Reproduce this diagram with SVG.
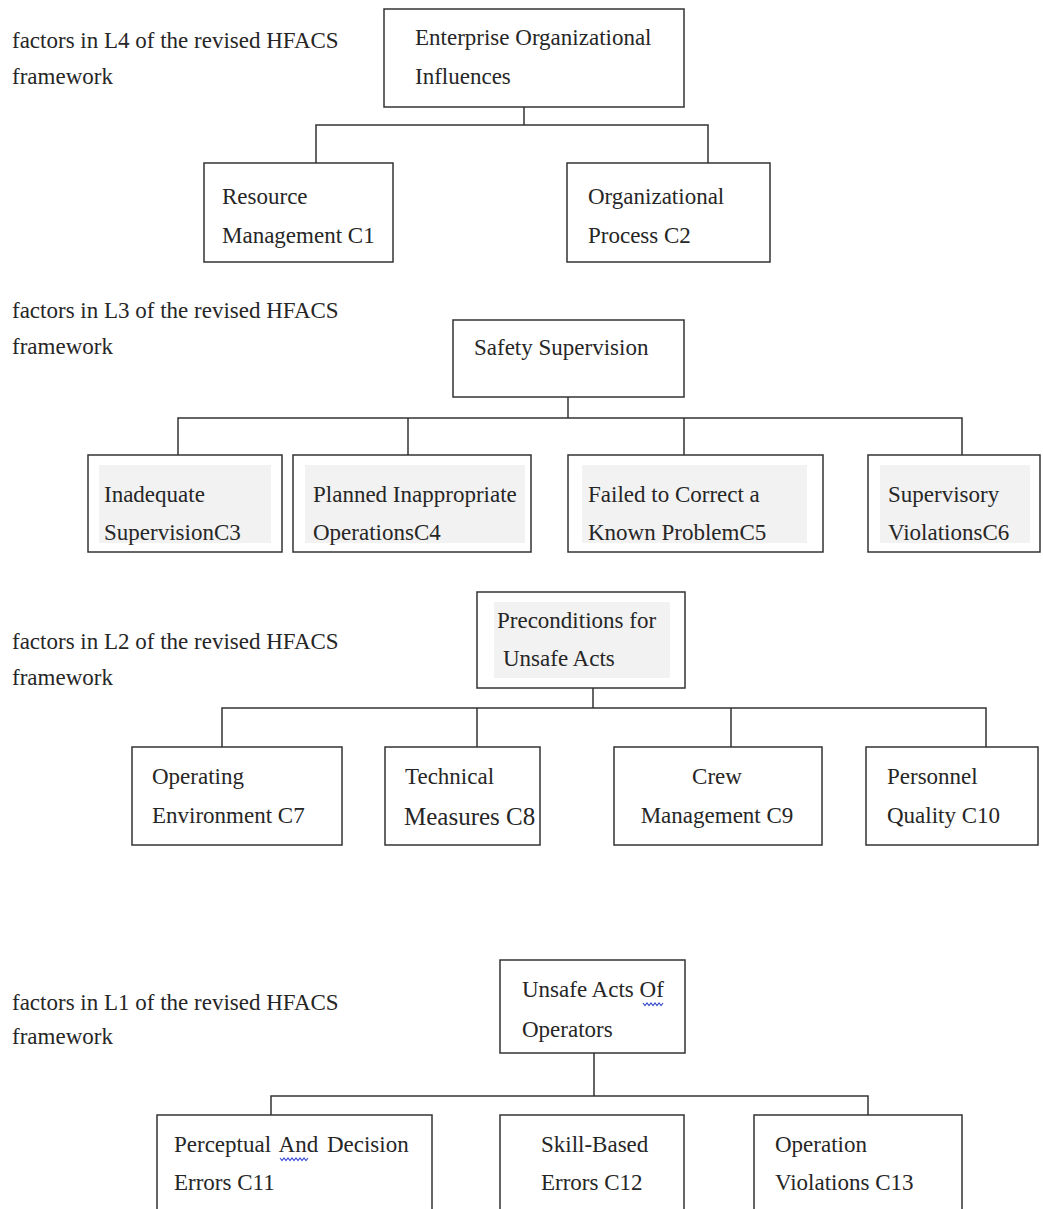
<svg xmlns="http://www.w3.org/2000/svg" width="1043" height="1209" viewBox="0 0 1043 1209">
<style>
  .box { fill: #ffffff; stroke: #333333; stroke-width: 1.5; }
  .bg { fill: #f2f2f2; stroke: none; }
  .t { font-family: "Liberation Serif", "Times New Roman", serif; font-size: 23px; fill: #262626; }
  .big { font-size: 25px; }
  .conn { fill: none; stroke: #333333; stroke-width: 1.5; }
  .squig { fill: none; stroke: #3a4fd0; stroke-width: 1.2; }
</style>
<rect width="1043" height="1209" fill="#ffffff"/>

<g id="labels">
  <text class="t" x="12" y="48">factors in L4 of the revised HFACS</text>
  <text class="t" x="12" y="84">framework</text>
  <text class="t" x="12" y="318">factors in L3 of the revised HFACS</text>
  <text class="t" x="12" y="354">framework</text>
  <text class="t" x="12" y="649">factors in L2 of the revised HFACS</text>
  <text class="t" x="12" y="685">framework</text>
  <text class="t" x="12" y="1010">factors in L1 of the revised HFACS</text>
  <text class="t" x="12" y="1044">framework</text>
</g>

<g id="connectors">
  <path class="conn" d="M524,107 V125 M316,163 V125 H708 V163"/>
  <path class="conn" d="M568,397 V418 M178,455 V418 H962 V455 M408,418 V455 M684,418 V455"/>
  <path class="conn" d="M593,688 V708 M222,747 V708 H986 V747 M477,708 V747 M731,708 V747"/>
  <path class="conn" d="M594,1053 V1096 M271,1115 V1096 H868 V1115"/>
</g>

<g id="n-enterprise">
  <rect class="box" x="384" y="9" width="300" height="98"/>
  <text class="t" x="415" y="45">Enterprise Organizational</text>
  <text class="t" x="415" y="84">Influences</text>
</g>
<g id="n-c1">
  <rect class="box" x="204" y="163" width="189" height="99"/>
  <text class="t" x="222" y="204">Resource</text>
  <text class="t" x="222" y="243">Management C1</text>
</g>
<g id="n-c2">
  <rect class="box" x="567" y="163" width="203" height="99"/>
  <text class="t" x="588" y="204">Organizational</text>
  <text class="t" x="588" y="243">Process C2</text>
</g>

<g id="n-safety">
  <rect class="box" x="453" y="320" width="231" height="77"/>
  <text class="t" x="474" y="355">Safety Supervision</text>
</g>
<g id="n-c3">
  <rect class="box" x="88" y="455" width="194" height="97"/>
  <rect class="bg" x="99" y="465" width="172" height="78"/>
  <text class="t" x="104" y="502">Inadequate</text>
  <text class="t" x="104" y="540">SupervisionC3</text>
</g>
<g id="n-c4">
  <rect class="box" x="293" y="455" width="238" height="97"/>
  <rect class="bg" x="305" y="465" width="220" height="78"/>
  <text class="t" x="313" y="502">Planned Inappropriate</text>
  <text class="t" x="313" y="540">OperationsC4</text>
</g>
<g id="n-c5">
  <rect class="box" x="568" y="455" width="255" height="97"/>
  <rect class="bg" x="582" y="465" width="225" height="78"/>
  <text class="t" x="588" y="502">Failed to Correct a</text>
  <text class="t" x="588" y="540">Known ProblemC5</text>
</g>
<g id="n-c6">
  <rect class="box" x="868" y="455" width="172" height="97"/>
  <rect class="bg" x="880" y="465" width="150" height="78"/>
  <text class="t" x="888" y="502">Supervisory</text>
  <text class="t" x="888" y="540">ViolationsC6</text>
</g>

<g id="n-preconditions">
  <rect class="box" x="477" y="592" width="208" height="96"/>
  <rect class="bg" x="494" y="602" width="176" height="76"/>
  <text class="t" x="497" y="628">Preconditions for</text>
  <text class="t" x="503" y="666">Unsafe Acts</text>
</g>
<g id="n-c7">
  <rect class="box" x="132" y="747" width="210" height="98"/>
  <text class="t" x="152" y="784">Operating</text>
  <text class="t" x="152" y="823">Environment C7</text>
</g>
<g id="n-c8">
  <rect class="box" x="385" y="747" width="155" height="98"/>
  <text class="t" x="405" y="784">Technical</text>
  <text class="t big" x="404" y="825">Measures C8</text>
</g>
<g id="n-c9">
  <rect class="box" x="614" y="747" width="208" height="98"/>
  <text class="t" x="717" y="784" text-anchor="middle">Crew</text>
  <text class="t" x="717" y="823" text-anchor="middle">Management C9</text>
</g>
<g id="n-c10">
  <rect class="box" x="866" y="747" width="172" height="98"/>
  <text class="t" x="887" y="784">Personnel</text>
  <text class="t" x="887" y="823">Quality C10</text>
</g>

<g id="n-unsafe">
  <rect class="box" x="500" y="960" width="185" height="93"/>
  <text class="t" x="522" y="997">Unsafe Acts Of</text>
  <path class="squig" d="M643,1003 l2,2.5 l2,-2.5 l2,2.5 l2,-2.5 l2,2.5 l2,-2.5 l2,2.5 l2,-2.5 l2,2.5 l2,-2.5"/>
  <text class="t" x="522" y="1037">Operators</text>
</g>
<g id="n-c11">
  <rect class="box" x="157" y="1115" width="275" height="110"/>
  <text class="t" x="174" y="1152" word-spacing="3">Perceptual And Decision</text>
  <path class="squig" d="M280,1158 l2,2.5 l2,-2.5 l2,2.5 l2,-2.5 l2,2.5 l2,-2.5 l2,2.5 l2,-2.5 l2,2.5 l2,-2.5 l2,2.5 l2,-2.5 l2,2.5 l2,-2.5"/>
  <text class="t" x="174" y="1190">Errors C11</text>
</g>
<g id="n-c12">
  <rect class="box" x="500" y="1115" width="184" height="110"/>
  <text class="t" x="541" y="1152">Skill-Based</text>
  <text class="t" x="541" y="1190">Errors C12</text>
</g>
<g id="n-c13">
  <rect class="box" x="754" y="1115" width="208" height="110"/>
  <text class="t" x="775" y="1152">Operation</text>
  <text class="t" x="775" y="1190">Violations C13</text>
</g>
</svg>
